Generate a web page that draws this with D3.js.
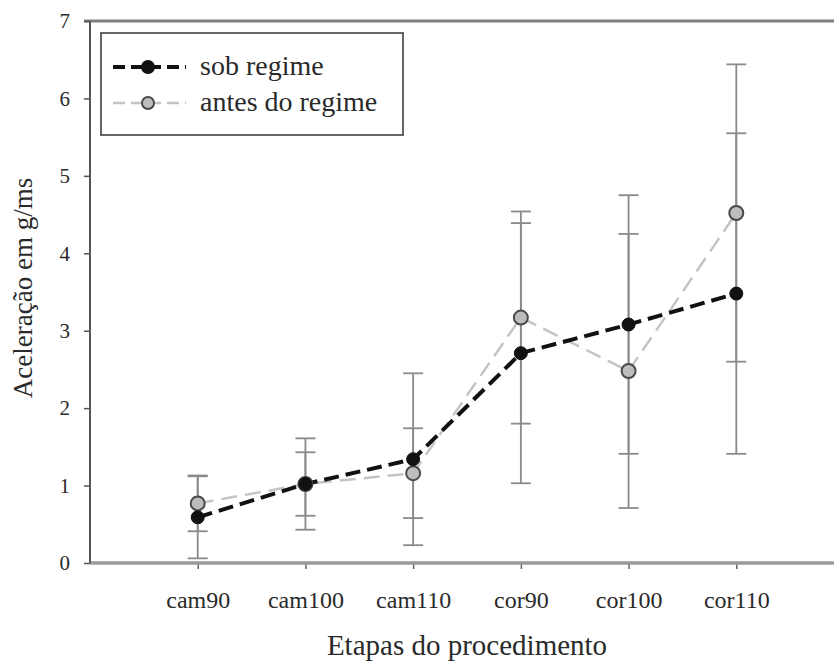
<!DOCTYPE html>
<html>
<head>
<meta charset="utf-8">
<script src="https://cdn.jsdelivr.net/npm/d3@7"></script>
<style>
  html, body { margin: 0; padding: 0; background: #fff; }
  svg { display: block; }
</style>
</head>
<body>
<svg id="chart" width="834" height="664"></svg>
<script>
// ---- data ----
const categories = ["cam90", "cam100", "cam110", "cor90", "cor100", "cor110"];
const sobRegime = [0.59, 1.02, 1.34, 2.71, 3.08, 3.48];
const sobRegimeErr = [0.53, 0.59, 1.11, 1.68, 1.67, 2.07];
const antesRegime = [0.77, 1.02, 1.16, 3.17, 2.48, 4.52];
const antesRegimeErr = [0.36, 0.41, 0.58, 1.37, 1.77, 1.92];
const yTicks = [0, 1, 2, 3, 4, 5, 6, 7];
const seriesNames = ["sob regime", "antes do regime"];
const xTitle = "Etapas do procedimento";
const yTitle = "Aceleração em g/ms";

// ---- layout ----
const FONT = "'Liberation Serif', 'Times New Roman', Tinos, 'DejaVu Serif', serif";
const svg = d3.select("#chart");
const mLeft = 90, mTop = 21, mBottom = 563, mRight = 844;

const x = d3.scalePoint().domain(categories).range([mLeft, mRight]).padding(1);
const y = d3.scaleLinear().domain([0, 7]).range([mBottom, mTop]);

// top frame line
svg.append("line")
  .attr("x1", mLeft - 6).attr("x2", 834)
  .attr("y1", y(7)).attr("y2", y(7))
  .attr("stroke", "#808080").attr("stroke-width", 3);

// bottom axis
const xAxis = svg.append("g").attr("transform", `translate(0,${mBottom})`)
  .call(d3.axisBottom(x).tickSize(6).tickPadding(22));
xAxis.select(".domain").remove();
xAxis.selectAll(".tick line").attr("stroke", "#666").attr("stroke-width", 1.5);
xAxis.selectAll(".tick text").style("font-size", "24px");
svg.append("line")
  .attr("x1", mLeft).attr("x2", 834)
  .attr("y1", mBottom).attr("y2", mBottom)
  .attr("stroke", "#9a9a9a").attr("stroke-width", 3.5);

// left axis
const yAxis = svg.append("g").attr("transform", `translate(${mLeft},0)`)
  .call(d3.axisLeft(y).tickValues(yTicks).tickSize(6).tickPadding(14).tickFormat(d3.format("d")));
yAxis.select(".domain").attr("stroke", "#555").attr("stroke-width", 2)
  .attr("d", `M0,${mTop}V${mBottom}`);
yAxis.selectAll(".tick line").attr("stroke", "#555").attr("stroke-width", 1.5);
yAxis.selectAll(".tick text").style("font-size", "21px");

// axis titles
svg.append("text")
  .attr("x", 467).attr("y", 655)
  .attr("text-anchor", "middle")
  .style("font-size", "29px")
  .text(xTitle);
svg.append("text")
  .attr("transform", `translate(32,${(178 + 398) / 2}) rotate(-90)`)
  .attr("text-anchor", "middle")
  .style("font-size", "27px")
  .text(yTitle);

// error bars
const capHalf = 10;
function errorBars(vals, errs) {
  const g = svg.append("g");
  categories.forEach((c, i) => {
    const cx = x(c);
    const hi = vals[i] + errs[i], lo = vals[i] - errs[i];
    g.append("line").attr("x1", cx).attr("x2", cx)
      .attr("y1", y(hi)).attr("y2", y(lo))
      .attr("stroke", "#8a8a8a").attr("stroke-width", 1.8);
    [hi, lo].forEach(v => {
      g.append("line").attr("x1", cx - capHalf).attr("x2", cx + capHalf)
        .attr("y1", y(v)).attr("y2", y(v))
        .attr("stroke", "#8a8a8a").attr("stroke-width", 1.8);
    });
  });
}
errorBars(antesRegime, antesRegimeErr);
errorBars(sobRegime, sobRegimeErr);

const line = d3.line().x((d, i) => x(categories[i])).y(d => y(d));

// gray series
svg.append("path").datum(antesRegime)
  .attr("d", line).attr("fill", "none")
  .attr("stroke", "#c4c4c4").attr("stroke-width", 2.5)
  .attr("stroke-dasharray", "16,8");
// black series
svg.append("path").datum(sobRegime)
  .attr("d", line).attr("fill", "none")
  .attr("stroke", "#111").attr("stroke-width", 4)
  .attr("stroke-dasharray", "15,7");

svg.append("g").selectAll("circle").data(antesRegime).join("circle")
  .attr("cx", (d, i) => x(categories[i])).attr("cy", d => y(d))
  .attr("r", 7).attr("fill", "#bdbdbd").attr("stroke", "#4a4a4a").attr("stroke-width", 2);
svg.append("g").selectAll("circle").data(sobRegime).join("circle")
  .attr("cx", (d, i) => x(categories[i])).attr("cy", d => y(d))
  .attr("r", 6.5).attr("fill", "#111").attr("stroke", "#111").attr("stroke-width", 1);

// legend
const lg = svg.append("g");
lg.append("rect").attr("x", 101).attr("y", 33).attr("width", 302).attr("height", 102)
  .attr("fill", "#fff").attr("stroke", "#666").attr("stroke-width", 2);
const legendRows = [
  { name: seriesNames[0], y: 67, stroke: "#111", sw: 4, dash: "12,6", fill: "#111", mstroke: "#111", r: 6 },
  { name: seriesNames[1], y: 103, stroke: "#c4c4c4", sw: 2.5, dash: "12,6", fill: "#bdbdbd", mstroke: "#4a4a4a", r: 6 }
];
legendRows.forEach(r => {
  lg.append("line").attr("x1", 113).attr("x2", 186).attr("y1", r.y).attr("y2", r.y)
    .attr("stroke", r.stroke).attr("stroke-width", r.sw).attr("stroke-dasharray", r.dash);
  lg.append("circle").attr("cx", 148).attr("cy", r.y).attr("r", r.r)
    .attr("fill", r.fill).attr("stroke", r.mstroke).attr("stroke-width", 2);
  lg.append("text").attr("x", 200).attr("y", r.y + 8)
    .style("font-size", "28px").text(r.name);
});

// uniform typography
svg.selectAll("text")
  .style("font-family", FONT)
  .style("fill", "#2a2a2a");
</script>
</body>
</html>
